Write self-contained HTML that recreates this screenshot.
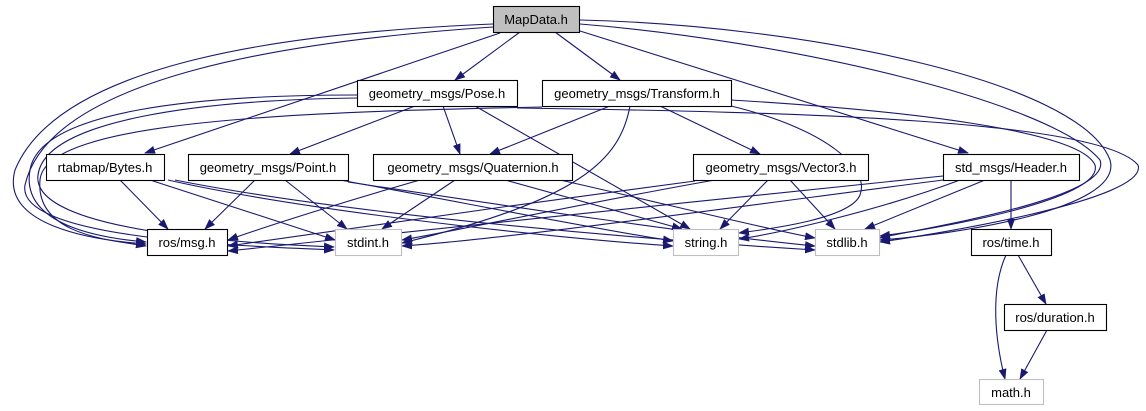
<!DOCTYPE html>
<html><head><meta charset="utf-8"><style>
html,body{margin:0;padding:0;background:#fff;width:1146px;height:411px;overflow:hidden}
svg text{font-family:"Liberation Sans",sans-serif;font-size:13px;text-anchor:middle}
</style></head><body>
<svg width="1146" height="411" viewBox="0 0 1146 411" xmlns="http://www.w3.org/2000/svg">
<defs><marker id="a" markerWidth="11" markerHeight="8" refX="10" refY="4" orient="auto" markerUnits="userSpaceOnUse"><path d="M0,0 L11,4 L0,8 z" fill="#191970"/></marker></defs>
<g fill="none" stroke="#191970" stroke-width="1.1" marker-end="url(#a)">
<!-- MapData -->
<path d="M520,32 L455,80"/>
<path d="M555,32 L620,80"/>
<path d="M500,33 L145,153"/>
<path d="M580,31 L968,153"/>
<path d="M493,24 C300,32 60,60 15,170 C0,225 90,240 146,244"/>
<path d="M493,27 C300,40 50,75 25,185 C15,240 250,246 334,250"/>
<path d="M580,20 C800,25 1080,80 1110,160 C1125,210 950,235 880,240"/>
<path d="M580,24 C780,40 1050,100 1100,160 C1115,200 900,232 880,238"/>
<!-- Pose -->
<path d="M415,106 L290,154"/>
<path d="M443,106 L460,154"/>
<path d="M475,106 L690,229"/>
<path d="M357,95 C200,95 40,110 30,170 C20,225 100,238 146,242"/>
<path d="M357,98 C200,100 45,120 38,175 C30,235 270,244 334,247"/>
<path d="M517,108 C800,112 1100,120 1138,165 C1150,200 930,235 880,242"/>
<!-- Transform -->
<path d="M610,106 L490,154"/>
<path d="M660,106 L760,154"/>
<path d="M630,106 C620,160 580,200 402,243"/>
<path d="M731,100 C900,110 1080,130 1095,165 C1105,200 930,230 880,236"/>
<path d="M731,106 C830,130 870,170 860,195 C850,220 760,230 739,233"/>
<path d="M542,107 C300,112 45,120 40,180 C35,235 110,240 146,246"/>
<!-- Bytes -->
<path d="M120,180 L168,229"/>
<path d="M150,180 L335,240"/>
<path d="M168,180 C300,210 550,238 673,246"/>
<path d="M175,180 C350,215 650,240 815,250"/>
<!-- Point -->
<path d="M255,180 L205,229"/>
<path d="M285,180 L347,229"/>
<path d="M340,180 C450,200 600,230 673,241"/>
<path d="M348,182 C500,205 700,235 815,246"/>
<!-- Quaternion -->
<path d="M420,180 C350,200 270,225 228,240"/>
<path d="M455,180 L382,229"/>
<path d="M505,180 L682,229"/>
<path d="M560,180 C650,200 760,228 815,238"/>
<!-- Vector3 -->
<path d="M695,181 C550,200 300,235 228,246"/>
<path d="M715,180 C600,200 450,232 402,240"/>
<path d="M768,180 L720,229"/>
<path d="M790,180 L835,229"/>
<!-- Header -->
<path d="M943,176 C700,200 350,240 228,251"/>
<path d="M943,180 C750,205 500,240 402,246"/>
<path d="M960,180 C880,210 780,233 739,239"/>
<path d="M985,180 L865,229"/>
<path d="M1011,180 L1011,229"/>
<!-- time -->
<path d="M1018,255 L1046,304"/>
<path d="M1006,255 C990,290 995,340 1005,379"/>
<path d="M1047,330 L1020,379"/>
</g>
<g stroke-width="1.1">
<rect x="493.5" y="6.5" width="86" height="26" fill="#bfbfbf" stroke="#000"/>
<rect x="357.5" y="80.5" width="160" height="26" fill="#fff" stroke="#000"/>
<rect x="542.5" y="80.5" width="189" height="26" fill="#fff" stroke="#000"/>
<rect x="46.5" y="154.5" width="118" height="26" fill="#fff" stroke="#000"/>
<rect x="188.5" y="154.5" width="160" height="26" fill="#fff" stroke="#000"/>
<rect x="373.5" y="154.5" width="199" height="26" fill="#fff" stroke="#000"/>
<rect x="693.5" y="154.5" width="175" height="26" fill="#fff" stroke="#000"/>
<rect x="943.5" y="154.5" width="136" height="26" fill="#fff" stroke="#000"/>
<rect x="147.5" y="229.5" width="80" height="26" fill="#fff" stroke="#000"/>
<rect x="335.5" y="229.5" width="66" height="26" fill="#fff" stroke="#bfbfbf"/>
<rect x="673.5" y="229.5" width="65" height="26" fill="#fff" stroke="#bfbfbf"/>
<rect x="815.5" y="229.5" width="64" height="26" fill="#fff" stroke="#bfbfbf"/>
<rect x="971.5" y="229.5" width="80" height="26" fill="#fff" stroke="#000"/>
<rect x="1004.5" y="304.5" width="102" height="26" fill="#fff" stroke="#000"/>
<rect x="979.5" y="379.5" width="64" height="25" fill="#fff" stroke="#bfbfbf"/>
</g>
<g fill="#000">
<text x="536" y="24">MapData.h</text>
<text x="437" y="98">geometry_msgs/Pose.h</text>
<text x="637" y="98">geometry_msgs/Transform.h</text>
<text x="105" y="172">rtabmap/Bytes.h</text>
<text x="268" y="172">geometry_msgs/Point.h</text>
<text x="473" y="172">geometry_msgs/Quaternion.h</text>
<text x="781" y="172">geometry_msgs/Vector3.h</text>
<text x="1011" y="172">std_msgs/Header.h</text>
<text x="187" y="247">ros/msg.h</text>
<text x="368" y="247">stdint.h</text>
<text x="706" y="247">string.h</text>
<text x="847" y="247">stdlib.h</text>
<text x="1011" y="247">ros/time.h</text>
<text x="1055" y="322">ros/duration.h</text>
<text x="1011" y="397">math.h</text>
</g>
</svg>
</body></html>
